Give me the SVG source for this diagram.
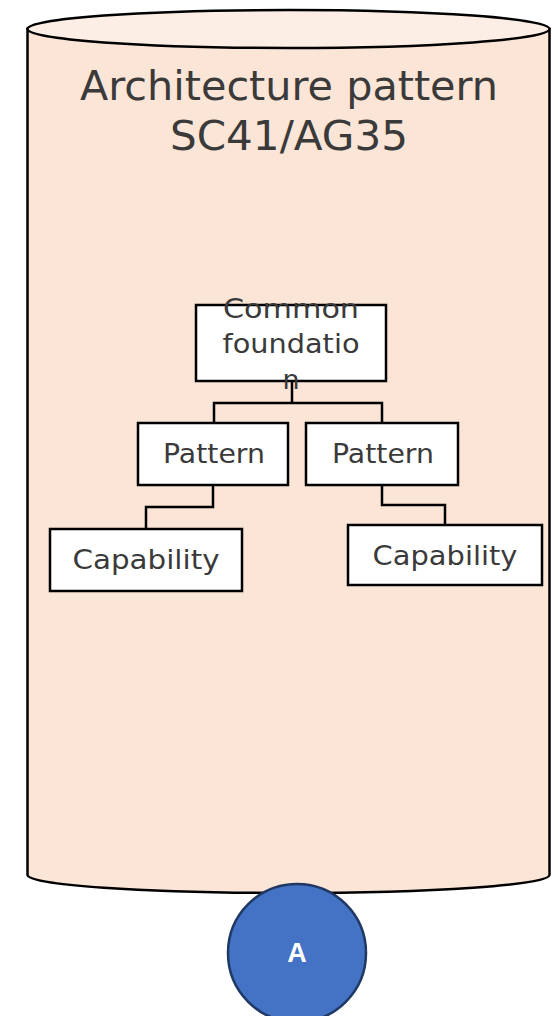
<svg xmlns="http://www.w3.org/2000/svg" width="558" height="1016" viewBox="0 0 558 1016">
<style>
.box{fill:#fff;stroke:#000;stroke-width:2.5}
.t{font-family:"Century Gothic","URW Gothic","DejaVu Sans","Liberation Sans",sans-serif;fill:#3a3a3a;text-anchor:middle}
.c{fill:none;stroke:#000;stroke-width:2.5}
</style>
<rect width="558" height="1016" fill="#fff"/>
<g id="cylinder">
<path d="M27.5,29 L27.5,875 A261,18 0 0 0 549.5,875 L549.5,29 Z" fill="#FBE5D6" stroke="#000" stroke-width="2.5"/>
<ellipse cx="288.5" cy="29" rx="261" ry="19" fill="#FDEEE5" stroke="#000" stroke-width="2.5"/>
<text class="t" x="289" y="100" font-size="40" textLength="418" lengthAdjust="spacingAndGlyphs">Architecture pattern</text>
<text class="t" x="289" y="150" font-size="40" textLength="238" lengthAdjust="spacingAndGlyphs">SC41/AG35</text>
</g>
<g id="connectors">
<path class="c" d="M292,381 V403 M214,423 V403 H382 V423"/>
<path class="c" d="M213,485 V507 H146 V529"/>
<path class="c" d="M382,485 V505 H445 V525"/>
</g>
<g id="common-foundation">
<rect class="box" x="196" y="305" width="190" height="76"/>
<text class="t" x="291" y="318" font-size="27" textLength="136" lengthAdjust="spacingAndGlyphs">Common</text>
<text class="t" x="291" y="353" font-size="27" textLength="137" lengthAdjust="spacingAndGlyphs">foundatio</text>
<text class="t" x="291" y="389" font-size="27">n</text>
</g>
<g id="pattern-left">
<rect class="box" x="138" y="423" width="150" height="62"/>
<text class="t" x="214" y="463" font-size="27" textLength="102" lengthAdjust="spacingAndGlyphs">Pattern</text>
</g>
<g id="pattern-right">
<rect class="box" x="306" y="423" width="152" height="62"/>
<text class="t" x="383" y="463" font-size="27" textLength="102" lengthAdjust="spacingAndGlyphs">Pattern</text>
</g>
<g id="capability-left">
<rect class="box" x="50" y="529" width="192" height="62"/>
<text class="t" x="146" y="569" font-size="27" textLength="147" lengthAdjust="spacingAndGlyphs">Capability</text>
</g>
<g id="capability-right">
<rect class="box" x="348" y="525" width="194" height="60"/>
<text class="t" x="445" y="565" font-size="27" textLength="145" lengthAdjust="spacingAndGlyphs">Capability</text>
</g>
<g id="circle-a">
<circle cx="297" cy="953" r="69" fill="#4472C4" stroke="#1F3864" stroke-width="2.5"/>
<text x="297" y="962" font-family="Liberation Sans,Arial,sans-serif" font-weight="bold" font-size="27" fill="#fff" text-anchor="middle">A</text>
</g>
</svg>
